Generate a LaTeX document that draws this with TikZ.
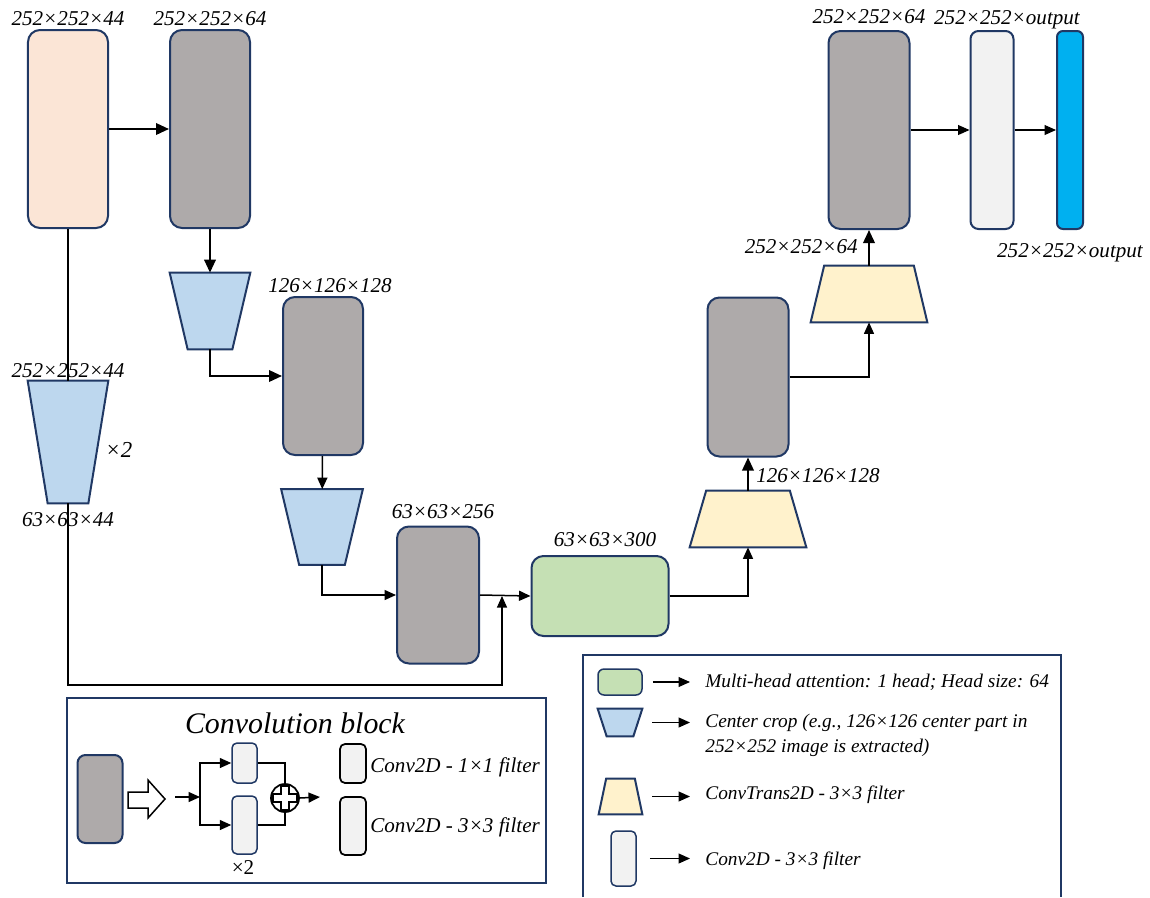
\documentclass[tikz,border=0pt]{standalone}
\usepackage{fontspec}
\setmainfont{Liberation Serif}
\usepackage{xcolor}
\usetikzlibrary{positioning, arrows.meta}

\definecolor{edgenavy}{HTML}{203864}
\definecolor{peach}{HTML}{FBE5D6}
\definecolor{convgray}{HTML}{AEAAAA}
\definecolor{cropblue}{HTML}{BDD7EE}
\definecolor{upyellow}{HTML}{FFF2CC}
\definecolor{attngreen}{HTML}{C5E0B4}
\definecolor{lightconv}{HTML}{F2F2F2}
\definecolor{outcyan}{HTML}{00B0F0}

% trapezoid over a placeholder node: node, top inset, bottom inset, fill
\newcommand{\trapfill}[4]{%
  \draw[trapline, fill=#4]
    ([xshift=#2]#1.north west) -- ([xshift=-#2]#1.north east)
    -- ([xshift=-#3]#1.south east) -- ([xshift=#3]#1.south west) -- cycle;}

\begin{document}
\begin{tikzpicture}[
  x=0.2mm, y=-0.2mm,
  every node/.style={font=\fontsize{12}{14}\selectfont\itshape},
  blk/.style={
    rectangle, rounded corners=2.4mm,
    draw=edgenavy, line width=0.4mm, inner sep=0pt,
  },
  convblk/.style={blk, fill=convgray},
  tallblk/.style={minimum width=16mm, minimum height=39.6mm},
  smallblk/.style={blk, rounded corners=1mm, line width=0.3mm, fill=lightconv},
  trapbox/.style={rectangle, inner sep=0pt},
  trapline/.style={draw=edgenavy, line width=0.4mm},
  dim/.style={inner sep=0pt},
  legtext/.style={inner sep=0pt, anchor=west, align=left, font=\fontsize{11}{14}\selectfont\itshape},
  arr/.style={-{Triangle[length=2.6mm,width=2.3mm]}, line width=0.4mm},
  arrthin/.style={-{Triangle[length=2.3mm,width=2mm]}, line width=0.22mm},
]
  \useasboundingbox (0,0) rectangle (1150,897);

  % encoder
  \node[blk, tallblk, fill=peach] (in) at (68,129) {};
  \node[convblk, tallblk] (c1) at (210,129) {};
  \node[trapbox, minimum width=16mm, minimum height=15.2mm] (crop1) at (210,311) {};
  \trapfill{crop1}{0mm}{3.6mm}{cropblue}
  \node[convblk, minimum width=16mm, minimum height=31.6mm] (c2) at (323,376) {};
  \node[trapbox, minimum width=16.2mm, minimum height=15mm] (crop2) at (322,527) {};
  \trapfill{crop2}{0mm}{3.6mm}{cropblue}
  \node[convblk, minimum width=16.4mm, minimum height=27.4mm] (c3) at (438,595) {};
  \node[blk, fill=attngreen, minimum width=27.4mm, minimum height=16mm] (attn) at (600,596) {};
  \coordinate (jn) at (502,596);
  \coordinate (sk) at (502,685);

  % decoder
  \node[trapbox, minimum width=23.2mm, minimum height=11.2mm] (up1) at (748,519) {};
  \trapfill{up1}{3.3mm}{0mm}{upyellow}
  \node[convblk, minimum width=16.2mm, minimum height=31.8mm] (c4) at (748,377) {};
  \node[trapbox, minimum width=23.2mm, minimum height=11.2mm] (up2) at (869,294) {};
  \trapfill{up2}{2.7mm}{0mm}{upyellow}
  \node[convblk, tallblk, minimum width=16.2mm] (c5) at (869,130) {};
  \node[blk, tallblk, minimum width=8.6mm, rounded corners=1.6mm, fill=lightconv] (conv) at (992,130) {};
  \node[blk, tallblk, minimum width=5.2mm, rounded corners=1.2mm, fill=outcyan] (out) at (1070,130) {};

  % skip path crop
  \node[trapbox, minimum width=16mm, minimum height=24.4mm] (cropsk) at (68,442) {};
  \trapfill{cropsk}{0mm}{4mm}{cropblue}

  \draw[arr] (in.east) -- (c1.west);
  \draw[arr] (c1) -- (crop1);
  \draw[arr] (crop1.south) |- (c2.west);
  \draw[arrthin, line width=0.3mm] (c2) -- (crop2);
  \draw[arrthin, line width=0.3mm] (crop2.south) |- (c3.west);
  \draw[arrthin, line width=0.3mm] (c3.east) -- (attn.west);
  \draw[line width=0.22mm] (in.south) -- (cropsk.north);
  \draw[arrthin] (cropsk.south) |- (sk) -- (jn);
  \draw[arrthin, line width=0.3mm] (attn.east) -| (up1.south);
  \draw[arr] (up1.north) -- (c4.south);
  \draw[arrthin] (c4.east) -| (up2.south);
  \draw[arr] (up2.north) -- (c5.south);
  \draw[arrthin] (c5.east) -- (conv.west);
  \draw[arrthin] (conv.east) -- (out.west);

  % sizes
  \node[dim, above=0.6mm of in] (lin) {252×252×44};
  \node[dim, above=0.6mm of c1] (lc1) {252×252×64};
  \node[dim, above=0.6mm of c2, xshift=1.4mm] (lc2) {126×126×128};
  \node[dim, above=1.2mm of c3, xshift=1mm] (lc3) {63×63×256};
  \node[dim, above=1.6mm of attn, xshift=1mm] (lattn) {63×63×300};
  \node[dim, anchor=west] (lup1) at (756,476) {126×126×128};
  \node[dim, anchor=east] (lup2) at (858,247) {252×252×64};
  \node[dim, above=1.2mm of c5] (lc5) {252×252×64};
  \node[dim, above=0.2mm of conv, xshift=3mm] (lconv) {252×252×output};
  \node[dim, below=2.6mm of out] (lout) {252×252×output};
  \node[dim, above=0.6mm of cropsk] (lsk1) {252×252×44};
  \node[dim, below=1.8mm of cropsk] (lsk2) {63×63×44};
  \node[dim, anchor=west, font=\fontsize{13}{15}\selectfont\itshape] (ltimes) at (105,450) {×2};

  % convolution block
  \draw[edgenavy, line width=0.35mm] (67,698) rectangle (546,883);
  \node[dim, font=\fontsize{17}{20}\selectfont\itshape] (cbtitle) at (295,723) {Convolution block};
  \node[convblk, minimum width=9mm, minimum height=17.6mm, rounded corners=1.6mm] (cbg) at (100,799) {};
  \draw[line width=0.3mm, fill=white] (128,792) -- (148,792) -- (148,780) -- (165,799)
    -- (148,818) -- (148,808) -- (128,808) -- cycle;
  \coordinate (cbin) at (175,797);
  \coordinate (br) at (200,797);
  \node[smallblk, minimum width=5mm, minimum height=8mm] (k1) at (244.5,763) {};
  \node[smallblk, minimum width=5mm, minimum height=11.6mm] (k3) at (244.5,825) {};
  \node[circle, draw, line width=0.35mm, fill=white, minimum size=5.6mm, inner sep=0pt] (add) at (285,798) {};
  \draw[line width=0.35mm, shift={(add.center)}]
    (-4,-12) -- (4,-12) -- (4,-4) -- (12,-4) -- (12,4) -- (4,4) -- (4,12)
    -- (-4,12) -- (-4,4) -- (-12,4) -- (-12,-4) -- (-4,-4) -- cycle;
  \coordinate (cbout) at (320,797);
  \draw[arrthin, line width=0.3mm] (cbin) -- (br);
  \draw[arrthin, line width=0.3mm] (br) |- (k1.west);
  \draw[arrthin, line width=0.3mm] (br) |- (k3.west);
  \draw[line width=0.22mm] (k1.east) -| (add.north);
  \draw[line width=0.22mm] (k3.east) -| (add.south);
  \draw[arrthin, line width=0.3mm] (add.east) -- (cbout);
  \node[dim, font=\fontsize{12}{14}\selectfont] (ltwo) at (243,868) {×2};
  \node[smallblk, draw=black, line width=0.35mm, minimum width=5.2mm, minimum height=7.8mm] (lk1) at (353,763.5) {};
  \node[smallblk, draw=black, line width=0.35mm, minimum width=5.2mm, minimum height=11.6mm] (lk3) at (353,826) {};
  \node[dim, anchor=west] (tk1) at (370,767) {Conv2D - 1×1 filter};
  \node[dim, anchor=west] (tk3) at (370,827) {Conv2D - 3×3 filter};

  % legend
  \draw[edgenavy, line width=0.3mm] (583,897) |- (1061,655) -- (1061,897);
  \node[blk, fill=attngreen, minimum width=8.8mm, minimum height=5.2mm, rounded corners=1.2mm, line width=0.3mm] (lgatt) at (620,682) {};
  \node[trapbox, minimum width=8.8mm, minimum height=5.4mm] (lgcrop) at (620,722.5) {};
  \trapfill{lgcrop}{0mm}{1.8mm}{cropblue}
  \node[trapbox, minimum width=8.6mm, minimum height=7mm] (lgup) at (620.5,796.5) {};
  \trapfill{lgup}{1.5mm}{0mm}{upyellow}
  \node[smallblk, minimum width=5mm, minimum height=11mm] (lgconv) at (623.5,858.5) {};
  \node[legtext] (tatt) at (705,682) {Multi-head attention: 1 head; Head size: 64};
  \node[legtext] (tcrop) at (705,735.5) {Center crop (e.g., 126×126 center part in\\252×252 image is extracted)};
  \node[legtext] (tup) at (705,795) {ConvTrans2D - 3×3 filter};
  \node[legtext] (tconv) at (705,861) {Conv2D - 3×3 filter};
  \draw[arrthin, shorten <=2mm, shorten >=3mm] (lgatt.east) -- (lgatt.east -| tatt.west);
  \draw[arrthin, shorten <=2mm, shorten >=3mm] (lgcrop.east) -- (lgcrop.east -| tcrop.west);
  \draw[arrthin, shorten <=2mm, shorten >=3mm] (lgup.east) -- (lgup.east -| tup.west);
  \draw[arrthin, shorten <=2.6mm, shorten >=3mm] (lgconv.east) -- (lgconv.east -| tconv.west);
\end{tikzpicture}
\end{document}
